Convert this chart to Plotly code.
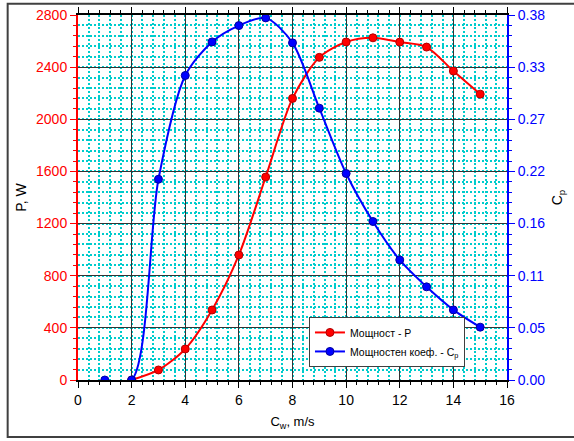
import plotly.graph_objects as go

# ---- data ----
wind_speed_p = [2, 3, 4, 5, 6, 7, 8, 9, 10, 11, 12, 13, 14, 15]
power_w = [0, 77, 238, 537, 959, 1557, 2160, 2475, 2593, 2625, 2592, 2554, 2370, 2193]

wind_speed_cp = [1, 2, 3, 4, 5, 6, 7, 8, 9, 10, 11, 12, 13, 14, 15]
cp_values = [0.0, 0.0, 0.209, 0.317, 0.352, 0.369, 0.377, 0.351, 0.283, 0.215,
             0.165, 0.125, 0.097, 0.073, 0.055]

x_ticks = [0, 2, 4, 6, 8, 10, 12, 14, 16]
p_ticks = [0, 400, 800, 1200, 1600, 2000, 2400, 2800]
cp_tick_labels = ["0.00", "0.05", "0.11", "0.16", "0.22", "0.27", "0.33", "0.38"]
cp_max = 0.38

FONT = "Liberation Sans, Arial, sans-serif"
RED = "#FF0000"
BLUE = "#0000FF"
CYAN = "#00CCCC"

cp_tickvals = [i * cp_max / (len(cp_tick_labels) - 1) for i in range(len(cp_tick_labels))]

fig = go.Figure()
fig.add_trace(go.Scatter(
    x=wind_speed_p, y=power_w, name="Мощност - P",
    mode="lines+markers", line=dict(color=RED, width=2, shape="spline", smoothing=0.8),
    marker=dict(symbol="circle", size=8, color=RED, line=dict(color="#B00000", width=1)),
    yaxis="y", cliponaxis=True,
))
fig.add_trace(go.Scatter(
    x=wind_speed_cp, y=cp_values, name="Мощностен коеф. - C<sub>p</sub>",
    mode="lines+markers", line=dict(color=BLUE, width=2, shape="spline", smoothing=0.8),
    marker=dict(symbol="circle", size=8, color=BLUE, line=dict(color="#0000A0", width=1)),
    yaxis="y2", cliponaxis=True,
))

L, R, T, B = 77.5, 66.5, 15.3, 61
W, H = 574, 441
pw, ph = W - L - R, H - T - B

def px_to_paper_x(px):
    return (px - L) / pw

def px_to_paper_y(py):
    return (H - B - py) / ph

fig.update_layout(
    width=W, height=H,
    margin=dict(l=L, r=R, t=T, b=B, pad=0),
    paper_bgcolor="white", plot_bgcolor="white",
    font=dict(family=FONT, size=13, color="black"),
    showlegend=True,
    legend=dict(
        x=px_to_paper_x(309), y=px_to_paper_y(317), xanchor="left", yanchor="top",
        bgcolor="white", bordercolor="#404040", borderwidth=1,
        font=dict(family=FONT, size=10.5, color="black"),
        itemwidth=30, tracegroupgap=0,
    ),
    xaxis=dict(
        range=[0, 16], tickvals=x_ticks, ticktext=[str(v) for v in x_ticks],
        showline=True, linecolor="black", linewidth=2, mirror="ticks",
        ticks="outside", ticklen=6, tickwidth=1, tickcolor="black",
        showgrid=True, gridcolor="#333333", gridwidth=1,
        zeroline=False,
        tickfont=dict(size=14, color="black"),
        minor=dict(dtick=0.4, tick0=0, ticks="outside", ticklen=3, tickcolor="black",
                   showgrid=True, gridcolor=CYAN, griddash="2px,2px", gridwidth=1.6),
        title=dict(text="C<sub>w</sub>, m/s", font=dict(size=13, color="black"), standoff=10),
        automargin=False,
    ),
    yaxis=dict(
        range=[0, 2800], tickvals=p_ticks, ticktext=[str(v) for v in p_ticks],
        showline=True, linecolor=RED, linewidth=2,
        ticks="outside", ticklen=6, tickwidth=1, tickcolor=RED,
        showgrid=True, gridcolor="#333333", gridwidth=1,
        zeroline=False,
        tickfont=dict(size=14, color=RED),
        minor=dict(dtick=80, tick0=0, ticks="outside", ticklen=3, tickcolor=RED,
                   showgrid=True, gridcolor=CYAN, griddash="2px,2px", gridwidth=1.6),
        title=dict(text="P, W", font=dict(size=14, color="black"), standoff=6),
        automargin=False,
    ),
    yaxis2=dict(
        range=[0, cp_max], overlaying="y", side="right",
        tickvals=cp_tickvals, ticktext=cp_tick_labels,
        showline=True, linecolor=BLUE, linewidth=2,
        ticks="outside", ticklen=6, tickwidth=1, tickcolor=BLUE,
        showgrid=False, zeroline=False,
        tickfont=dict(size=14, color=BLUE),
        minor=dict(dtick=cp_max / 35, tick0=0, ticks="outside", ticklen=3, tickcolor=BLUE,
                   showgrid=False),
        title=dict(text="C<sub>p</sub>", font=dict(size=14, color="black"), standoff=8),
        automargin=False,
    ),
    shapes=[
        dict(type="rect", xref="paper", yref="paper",
             x0=px_to_paper_x(7), x1=px_to_paper_x(585),
             y0=px_to_paper_y(437), y1=px_to_paper_y(4),
             line=dict(color="#404040", width=2), fillcolor="rgba(0,0,0,0)", layer="below"),
    ],
)

fig.write_html("out.html")
